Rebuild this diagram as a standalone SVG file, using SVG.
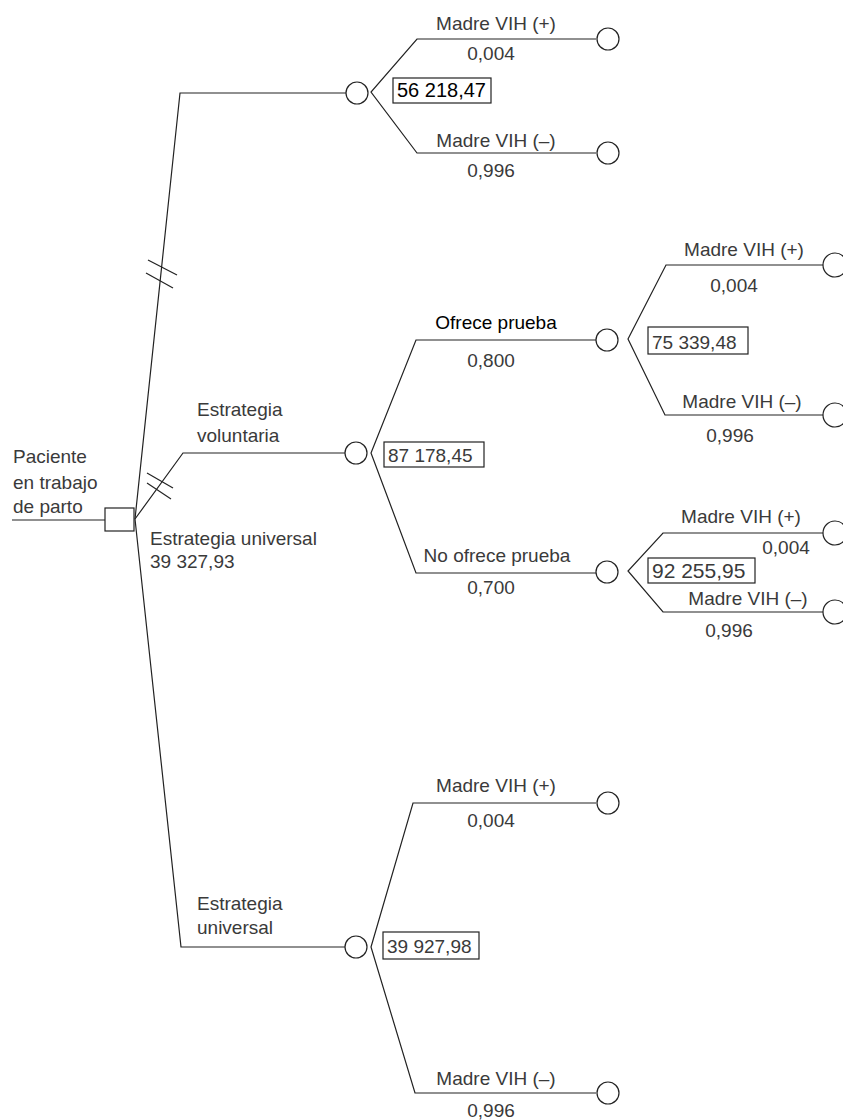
<svg xmlns="http://www.w3.org/2000/svg" width="843" height="1120" viewBox="0 0 843 1120">
<style>
.ln{fill:none;stroke:#222;stroke-width:1.2}
.nd{fill:#fff;stroke:#222;stroke-width:1.2}
.t{font-family:"Liberation Sans",Arial,sans-serif;font-size:19px;fill:#3a3a3a}
.c{text-anchor:middle}
.k{fill:#000}
</style>
<rect width="843" height="1120" fill="#fff"/>
<g id="connectors">
<polyline class="ln" points="12,520 105,520"/>
<polyline class="ln" points="135,519 180,93 347,93"/>
<polyline class="ln" points="135,519 183,453 345,453"/>
<polyline class="ln" points="135,519 181,947 345,947"/>
<line class="ln" x1="148" y1="260" x2="177" y2="275"/>
<line class="ln" x1="146" y1="273" x2="173" y2="288"/>
<line class="ln" x1="147" y1="473" x2="173" y2="488"/>
<line class="ln" x1="147" y1="483" x2="171" y2="499"/>
<polyline class="ln" points="596,39 417,39 371,92 417,153 596,153"/>
<polyline class="ln" points="596,340 416,340 371,453 416,573 596,573"/>
<polyline class="ln" points="823,265 666,265 628,339 665,415 823,415"/>
<polyline class="ln" points="823,533 663,533 628,571 663,612 823,612"/>
<polyline class="ln" points="596,803 413,803 371,947 415,1093 596,1093"/>
</g>
<g id="root">
<rect class="nd" x="105" y="508" width="29" height="23"/>
<text class="t" x="13" y="463">Paciente</text>
<text class="t" x="13" y="489">en trabajo</text>
<text class="t" x="13" y="513">de parto</text>
<text class="t" x="150" y="545">Estrategia universal</text>
<text class="t" x="150" y="568">39 327,93</text>
</g>
<g id="chance-top">
<circle class="nd" cx="357" cy="93" r="11"/>
<rect class="nd" x="393" y="78" width="98" height="25"/>
<text class="t k" x="397" y="97" style="font-size:20px">56 218,47</text>
<text class="t c" x="496" y="30">Madre VIH (+)</text>
<text class="t c" x="491" y="60">0,004</text>
<text class="t c" x="496" y="147">Madre VIH (–)</text>
<text class="t c" x="491" y="177">0,996</text>
</g>
<g id="end-top-pos"><circle class="nd" cx="608" cy="39" r="11"/></g>
<g id="end-top-neg"><circle class="nd" cx="608" cy="153" r="11"/></g>
<g id="chance-voluntaria">
<circle class="nd" cx="356" cy="453" r="11"/>
<text class="t" x="197" y="416">Estrategia</text>
<text class="t" x="197" y="442">voluntaria</text>
<rect class="nd" x="384" y="442" width="100" height="25"/>
<text class="t" x="388" y="462">87 178,45</text>
<text class="t c k" x="496" y="329">Ofrece prueba</text>
<text class="t c" x="491" y="367">0,800</text>
<text class="t c" x="497" y="562">No ofrece prueba</text>
<text class="t c" x="491" y="594">0,700</text>
</g>
<g id="chance-ofrece">
<circle class="nd" cx="607" cy="340" r="11"/>
<rect class="nd" x="648" y="327" width="100" height="27"/>
<text class="t" x="652" y="349">75 339,48</text>
<text class="t c" x="744" y="256">Madre VIH (+)</text>
<text class="t c" x="734" y="292">0,004</text>
<text class="t c" x="742" y="408">Madre VIH (–)</text>
<text class="t c" x="730" y="442">0,996</text>
</g>
<g id="end-ofrece-pos"><circle class="nd" cx="835" cy="265" r="12"/></g>
<g id="end-ofrece-neg"><circle class="nd" cx="835" cy="415" r="12"/></g>
<g id="chance-no-ofrece">
<circle class="nd" cx="607" cy="572" r="11"/>
<rect class="nd" x="648" y="558" width="107" height="25"/>
<text class="t" x="652" y="578" style="font-size:21px">92 255,95</text>
<text class="t c" x="741" y="523">Madre VIH (+)</text>
<text class="t c" x="786" y="554">0,004</text>
<text class="t c" x="748" y="605">Madre VIH (–)</text>
<text class="t c" x="729" y="637">0,996</text>
</g>
<g id="end-no-ofrece-pos"><circle class="nd" cx="835" cy="533" r="12"/></g>
<g id="end-no-ofrece-neg"><circle class="nd" cx="835" cy="612" r="12"/></g>
<g id="chance-universal">
<circle class="nd" cx="356" cy="947" r="11"/>
<text class="t" x="197" y="910">Estrategia</text>
<text class="t" x="197" y="934">universal</text>
<rect class="nd" x="383" y="932" width="96" height="27"/>
<text class="t" x="387" y="953">39 927,98</text>
<text class="t c" x="496" y="792">Madre VIH (+)</text>
<text class="t c" x="491" y="827">0,004</text>
<text class="t c" x="496" y="1085">Madre VIH (–)</text>
<text class="t c" x="491" y="1117">0,996</text>
</g>
<g id="end-universal-pos"><circle class="nd" cx="608" cy="803" r="11"/></g>
<g id="end-universal-neg"><circle class="nd" cx="608" cy="1093" r="11"/></g>
</svg>
